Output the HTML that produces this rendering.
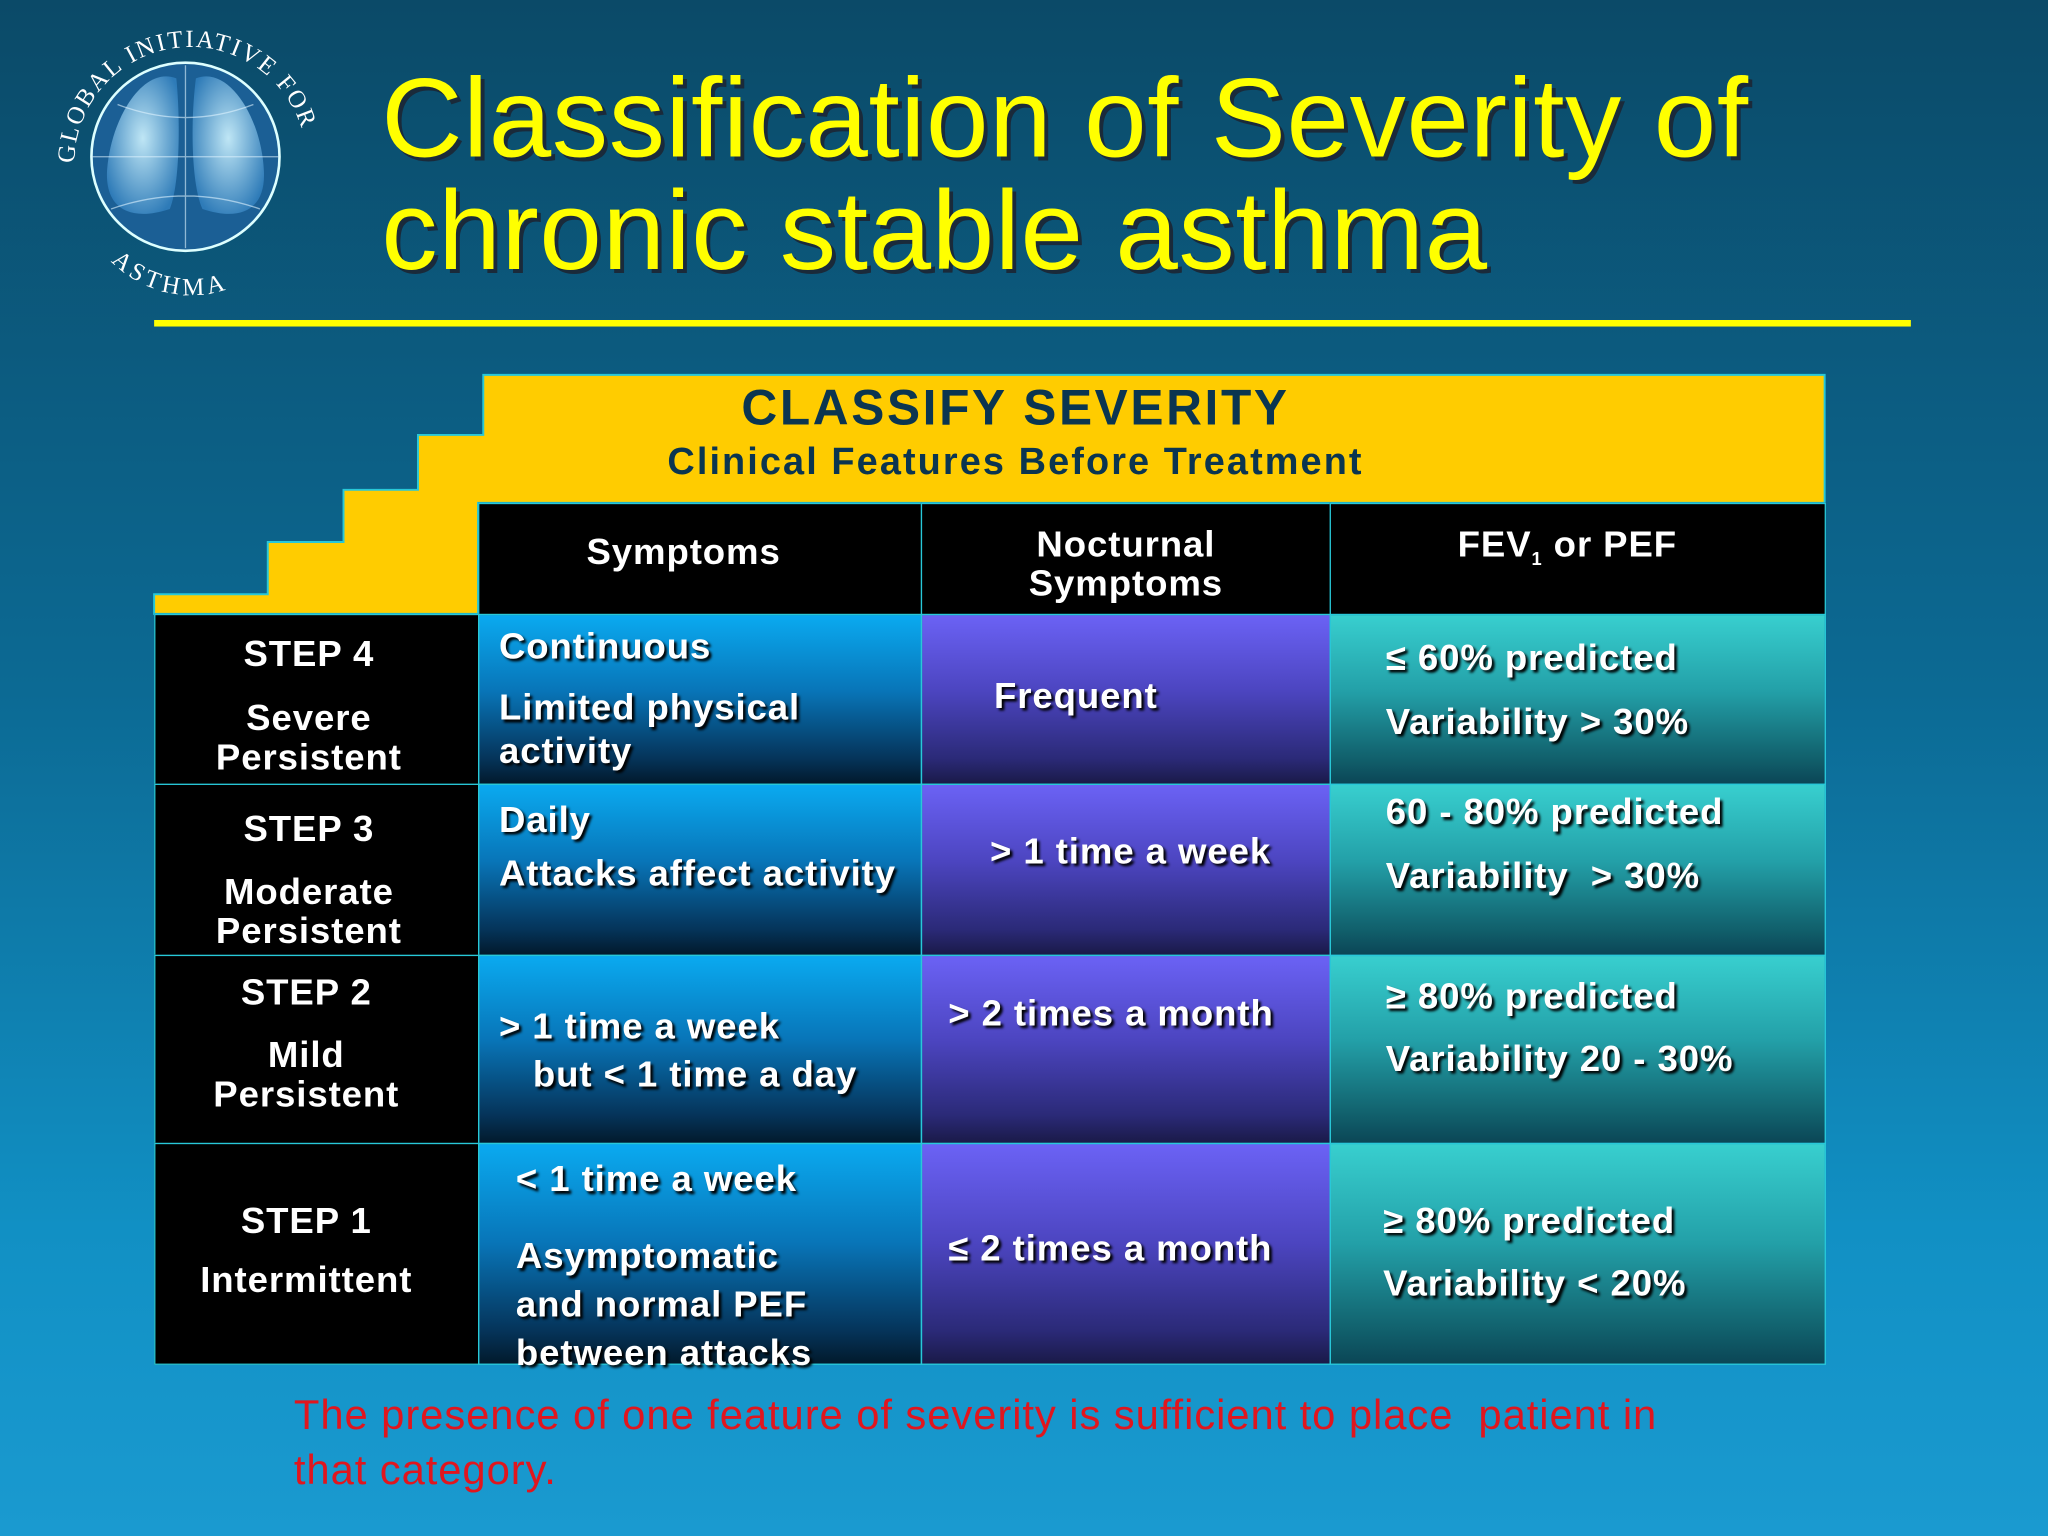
<!DOCTYPE html>
<html><head><meta charset="utf-8"><style>
html,body{margin:0;padding:0;}
body{width:2048px;height:1536px;overflow:hidden;background:linear-gradient(to bottom,#0b4a68 0%,#0c6a94 45%,#1190c4 80%,#1a9ad0 100%);font-family:"Liberation Sans",Arial,sans-serif;}
#stage{position:absolute;left:0;top:0;width:1568px;height:1176px;transform:scale(1.306122);transform-origin:0 0;}
.abs{position:absolute;}
.title{left:292px;color:#ffff00;font-size:86px;line-height:86px;text-shadow:3px 3px 0 #1a2a3a;white-space:nowrap;letter-spacing:0.5px;}
.cell{position:absolute;box-sizing:border-box;border:1.5px solid #28c8d8;color:#fff;font-weight:bold;font-size:28px;letter-spacing:0.7px;text-shadow:2px 2px 2px #000;}
.blk{background:#000;}
.sym{background:linear-gradient(to bottom,#0aaaf0 0%,#0875b8 45%,#05345a 85%,#021a2c 100%);}
.noc{background:linear-gradient(to bottom,#6b62f5 0%,#4c45c0 45%,#2b2a78 85%,#1a1a48 100%);}
.fev{background:linear-gradient(to bottom,#38cfcf 0%,#23a0a8 45%,#11606c 85%,#0b4656 100%);}
.t{position:absolute;white-space:nowrap;line-height:30px;}
.c{text-align:center;width:100%;left:0;}
</style></head><body>
<div id="stage">
<svg class="abs" style="left:35px;top:15px" width="220" height="220">
 <defs>
  <radialGradient id="g" cx="50%" cy="45%" r="60%"><stop offset="0" stop-color="#bfe6f5"/><stop offset="1" stop-color="#2e7bb8"/></radialGradient>
  <path id="arcTop" d="M 22 110 A 86 86 0 0 1 200 110"/>
  <path id="arcBot" d="M 50 185 A 86 86 0 0 0 170 188"/>
 </defs>
 <circle cx="107" cy="105" r="72" fill="#1b5f95" stroke="#dff" stroke-width="2"/>
 <path d="M100 45 C75 35 50 75 47 115 C45 145 65 155 95 145 C103 125 103 75 100 45Z" fill="url(#g)"/>
 <path d="M115 45 C140 35 165 75 167 115 C169 145 150 155 120 145 C111 125 111 75 115 45Z" fill="url(#g)"/>
 <path d="M107 35 V175 M35 105 H179 M55 65 Q107 85 159 65 M50 145 Q107 125 164 145" stroke="#e0f4ff" stroke-width="1" fill="none" opacity="0.6"/>
 <text fill="#fff" font-family="Liberation Serif" font-size="19" letter-spacing="1.5"><textPath href="#arcTop">GLOBAL INITIATIVE FOR</textPath></text>
 <text fill="#fff" font-family="Liberation Serif" font-size="19" letter-spacing="3"><textPath href="#arcBot">ASTHMA</textPath></text>
</svg>
<div class="abs title" style="top:48px">Classification of Severity of</div>
<div class="abs title" style="top:134px">chronic stable asthma</div>
<div class="abs" style="left:118px;top:245px;width:1345px;height:5px;background:#ffff00"></div>

<svg class="abs" style="left:0;top:0" width="1568" height="1176">
 <path d="M118 470 V455 H205 V415 H263 V375 H320 V333 H370 V287 H1397 V385 H366 V470 Z" fill="#ffcc00" stroke="#28c8d8" stroke-width="1.5"/>
</svg>
<div class="abs" style="left:370px;top:292px;width:815px;text-align:center;color:#0b3550;font-weight:bold;font-size:38px;letter-spacing:2px">CLASSIFY SEVERITY</div>
<div class="abs" style="left:370px;top:338px;width:815px;text-align:center;color:#0b3550;font-weight:bold;font-size:29px;letter-spacing:1.6px">Clinical Features Before Treatment</div>

<div class="cell blk" style="left:366px;top:385px;width:340px;height:86px"><div class="t" style="left:82px;top:22px">Symptoms</div></div>
<div class="cell blk" style="left:705px;top:385px;width:314px;height:86px"><div class="t c" style="top:16px;line-height:30px">Nocturnal<br>Symptoms</div></div>
<div class="cell blk" style="left:1018px;top:385px;width:380px;height:86px"><div class="t" style="left:97px;top:16px">FEV<sub style="font-size:14px">1</sub> or PEF</div></div>

<div class="cell blk" style="left:118px;top:470px;width:249px;height:131px"><div class="t c" style="top:15px;left:-6px">STEP 4</div><div class="t c" style="top:64px;left:-6px">Severe<br>Persistent</div></div>
<div class="cell sym" style="left:366px;top:470px;width:340px;height:131px"><div class="t" style="left:15px;top:9px">Continuous</div><div class="t" style="left:15px;top:54px;line-height:33px">Limited physical<br>activity</div></div>
<div class="cell noc" style="left:705px;top:470px;width:314px;height:131px"><div class="t" style="left:55px;top:47px">Frequent</div></div>
<div class="cell fev" style="left:1018px;top:470px;width:380px;height:131px"><div class="t" style="left:42px;top:18px">≤ 60% predicted</div><div class="t" style="left:42px;top:67px">Variability &gt; 30%</div></div>

<div class="cell blk" style="left:118px;top:600px;width:249px;height:132px"><div class="t c" style="top:19px;left:-6px">STEP 3</div><div class="t c" style="top:67px;left:-6px">Moderate<br>Persistent</div></div>
<div class="cell sym" style="left:366px;top:600px;width:340px;height:132px"><div class="t" style="left:15px;top:12px">Daily</div><div class="t" style="left:15px;top:53px">Attacks affect activity</div></div>
<div class="cell noc" style="left:705px;top:600px;width:314px;height:132px"><div class="t" style="left:52px;top:36px">&gt; 1 time a week</div></div>
<div class="cell fev" style="left:1018px;top:600px;width:380px;height:132px"><div class="t" style="left:42px;top:6px">60 - 80% predicted</div><div class="t" style="left:42px;top:55px">Variability &nbsp;&gt; 30%</div></div>

<div class="cell blk" style="left:118px;top:731px;width:249px;height:145px"><div class="t c" style="top:13px;left:-8px">STEP 2</div><div class="t c" style="top:61px;left:-8px">Mild<br>Persistent</div></div>
<div class="cell sym" style="left:366px;top:731px;width:340px;height:145px"><div class="t" style="left:15px;top:39px">&gt; 1 time a week</div><div class="t" style="left:41px;top:76px">but &lt; 1 time a day</div></div>
<div class="cell noc" style="left:705px;top:731px;width:314px;height:145px"><div class="t" style="left:20px;top:29px">&gt; 2 times a month</div></div>
<div class="cell fev" style="left:1018px;top:731px;width:380px;height:145px"><div class="t" style="left:42px;top:16px">≥ 80% predicted</div><div class="t" style="left:42px;top:64px">Variability 20 - 30%</div></div>

<div class="cell blk" style="left:118px;top:875px;width:249px;height:170px"><div class="t c" style="top:44px;left:-8px">STEP 1</div><div class="t c" style="top:89px;left:-8px">Intermittent</div></div>
<div class="cell sym" style="left:366px;top:875px;width:340px;height:170px"><div class="t" style="left:28px;top:12px">&lt; 1 time a week</div><div class="t" style="left:28px;top:67px;line-height:37px">Asymptomatic<br>and normal PEF<br>between attacks</div></div>
<div class="cell noc" style="left:705px;top:875px;width:314px;height:170px"><div class="t" style="left:20px;top:65px">≤ 2 times a month</div></div>
<div class="cell fev" style="left:1018px;top:875px;width:380px;height:170px"><div class="t" style="left:40px;top:44px">≥ 80% predicted</div><div class="t" style="left:40px;top:92px">Variability &lt; 20%</div></div>

<div class="abs" style="left:225px;top:1062px;width:1100px;color:#e0161e;font-size:32px;line-height:42px;letter-spacing:0.7px">The presence of one feature of severity is sufficient to place &nbsp;patient in that category.</div>
</div>
</body></html>
